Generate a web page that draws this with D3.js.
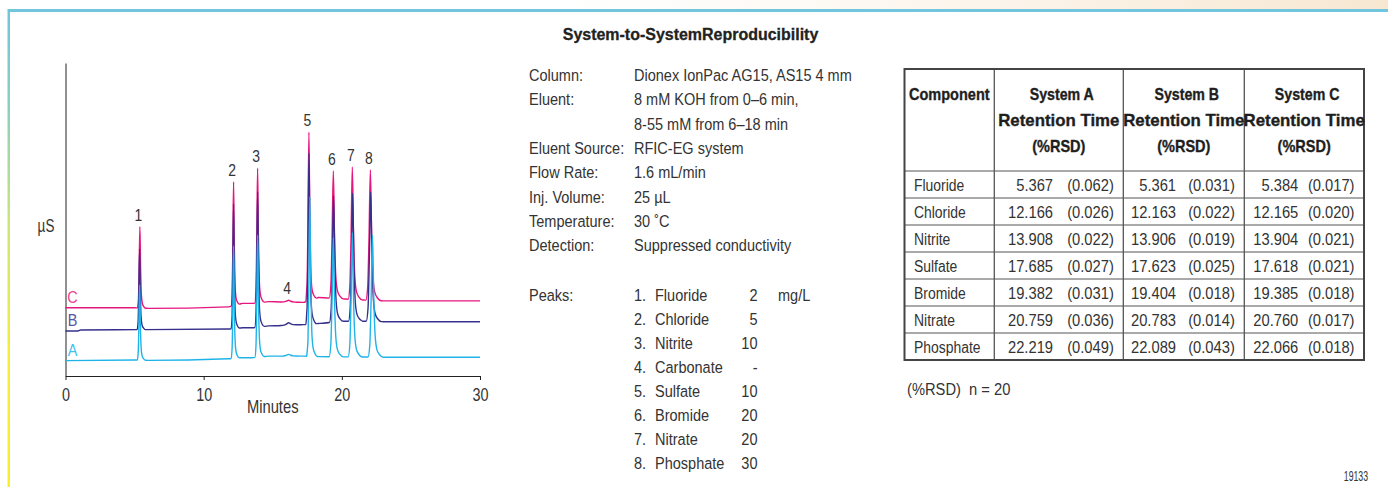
<!DOCTYPE html>
<html>
<head>
<meta charset="utf-8">
<script src="https://cdn.jsdelivr.net/npm/d3@7"></script>
<style>
  html, body { margin: 0; padding: 0; background: #fff; }
  svg { display: block; }
  text { font-family: "Liberation Sans", Arial, sans-serif; fill: #333; white-space: pre; }
</style>
</head>
<body>
<svg id="fig" width="1388" height="487"></svg>
<script>
// ---------- data ----------
const systemNames = ["A", "B", "C"];
const peakNumbers = ["1", "2", "3", "4", "5", "6", "7", "8"];
const peakNames = ["Fluoride", "Chloride", "Nitrite", "Carbonate", "Sulfate", "Bromide", "Nitrate", "Phosphate"];
const peakConc = ["2", "5", "10", "-", "10", "20", "20", "30"];

// retention times (min) per system; carbonate (peak 4) is not tabulated
const peakTimeA = [5.367, 12.166, 13.908, 16.15, 17.685, 19.382, 20.759, 22.219];
const peakTimeB = [5.361, 12.163, 13.906, 16.15, 17.623, 19.404, 20.783, 22.089];
const peakTimeC = [5.384, 12.165, 13.904, 16.15, 17.618, 19.385, 20.760, 22.066];

// apex response (µS, relative) per system
const peakTopA = [29.1, 41.6, 45.0, 6.9, 57.3, 44.2, 45.8, 45.0];
const peakTopB = [40.6, 55.0, 58.9, 17.0, 71.2, 57.6, 58.4, 58.8];
const peakTopC = [47.7, 62.0, 66.4, 24.2, 77.9, 65.5, 66.8, 65.8];

// peak width (min) and peak profile (offset in widths -> fraction of height)
const peakWidth = [0.07, 0.07, 0.08, 0.22, 0.09, 0.12, 0.12, 0.13];
const profileOffset = [-2.5, -1.5, -0.8, 0, 0.7, 1.5, 2.5, 4, 6];
const profileLevel = [0, 0.1, 0.45, 1, 0.5, 0.17, 0.06, 0.02, 0];

// baseline [time, µS] per system
const baseA = [[0, 4.9], [5, 5.1], [6, 5.0], [11.8, 5.5], [12.8, 5.85], [13.5, 5.85], [14.7, 6.35], [17.2, 6.35], [18.4, 6.2], [23, 6.0], [30, 6.0]];
const baseB = [[0, 14.4], [0.9, 14.4], [1.1, 14.7], [11.8, 15.0], [12.8, 15.4], [13.5, 15.4], [14.7, 16.0], [17.2, 16.4], [18.4, 16.8], [20.2, 17.5], [21.5, 17.5], [23, 17.35], [30, 17.35]];
const baseC = [[0, 21.8], [5, 21.8], [6, 21.6], [11.8, 22.1], [12.8, 23.2], [13.5, 23.2], [14.7, 23.75], [17.2, 23.5], [18.3, 25.1], [20.2, 24.6], [21.5, 24.3], [23, 24.0], [30, 24.0]];

const xTicks = [0, 10, 20, 30];

// chromatographic conditions
const condLabels = ["Column:", "Eluent:", "", "Eluent Source:", "Flow Rate:", "Inj. Volume:", "Temperature:", "Detection:"];
const condValues = ["Dionex IonPac AG15, AS15 4 mm", "8 mM KOH from 0\u20136 min,", "8-55 mM from 6\u201318 min", "RFIC-EG system", "1.6 mL/min", "25 \u00b5L", "30 \u02daC", "Suppressed conductivity"];

// reproducibility table
const tableComponents = ["Fluoride", "Chloride", "Nitrite", "Sulfate", "Bromide", "Nitrate", "Phosphate"];
const rtA = ["5.367", "12.166", "13.908", "17.685", "19.382", "20.759", "22.219"];
const rsdA = ["(0.062)", "(0.026)", "(0.022)", "(0.027)", "(0.031)", "(0.036)", "(0.049)"];
const rtB = ["5.361", "12.163", "13.906", "17.623", "19.404", "20.783", "22.089"];
const rsdB = ["(0.031)", "(0.022)", "(0.019)", "(0.025)", "(0.018)", "(0.014)", "(0.043)"];
const rtC = ["5.384", "12.165", "13.904", "17.618", "19.385", "20.760", "22.066"];
const rsdC = ["(0.017)", "(0.020)", "(0.021)", "(0.021)", "(0.018)", "(0.017)", "(0.018)"];

// ---------- helpers ----------
const svg = d3.select("#fig");
// condensed text: regular face squeezed horizontally
function label(parent, x, y, str, o = {}) {
  const t = parent.append("text")
    .attr("transform", `translate(${x},${y}) scale(${o.sx ?? 0.88},1)`)
    .attr("text-anchor", o.anchor || "start")
    .style("font-size", (o.size || 16.5) + "px");
  if (o.bold) t.style("font-weight", "bold");
  if (o.fill) t.style("fill", o.fill);
  if (o.heavy) t.style("stroke", o.fill || "#222").style("stroke-width", o.heavy);
  t.text(str);
  return t;
}

// ---------- page frame ----------
const defs = svg.append("defs");
const gTop = defs.append("linearGradient").attr("id", "topWash").attr("x1", 0).attr("x2", 1).attr("y1", 0).attr("y2", 0);
gTop.append("stop").attr("offset", "0%").attr("stop-color", "#fbefe0").attr("stop-opacity", 0);
gTop.append("stop").attr("offset", "100%").attr("stop-color", "#f7e7d1").attr("stop-opacity", 1);
const gLeft = defs.append("linearGradient").attr("id", "leftEdge").attr("x1", 0).attr("x2", 0).attr("y1", 0).attr("y2", 1);
[["0%", "#6fc5dc"], ["20%", "#88d0c0"], ["45%", "#cbe678"], ["72%", "#f3ee3a"], ["100%", "#f7f02c"]]
  .forEach(([o, c]) => gLeft.append("stop").attr("offset", o).attr("stop-color", c));

svg.append("rect").attr("x", 560).attr("y", 0).attr("width", 828).attr("height", 9).attr("fill", "url(#topWash)");
svg.append("rect").attr("x", 8).attr("y", 9).attr("width", 1380).attr("height", 3).attr("fill", "#71c5dc");
svg.append("rect").attr("x", 7.5).attr("y", 9).attr("width", 2.5).attr("height", 478).attr("fill", "url(#leftEdge)");

// title
label(svg, 690.5, 40, "System-to-SystemReproducibility", { anchor: "middle", bold: true, size: 17, sx: 0.94, fill: "#222", heavy: 0.3 });

// ---------- chromatogram ----------
const x = d3.scaleLinear().domain([0, 30]).range([65.5, 480]);
const y = d3.scaleLinear().domain([0, 100]).range([376, 63]);

const chart = svg.append("g");
chart.append("g").attr("transform", "translate(0,376)")
  .call(d3.axisBottom(x).tickValues(xTicks).tickSize(4).tickSizeOuter(0).tickPadding(8).tickFormat(d3.format("d")))
  .call(g => g.select(".domain").attr("stroke", "#222"))
  .call(g => g.selectAll(".tick line").attr("stroke", "#222"))
  .call(g => g.selectAll("text").style("font-size", "18px").style("font-family", null)
    .attr("fill", "#333").attr("transform", "scale(0.8,1)"));
chart.append("g").attr("transform", "translate(65.5,0)")
  .call(d3.axisLeft(y).tickValues([]).tickSizeOuter(0))
  .call(g => g.select(".domain").attr("stroke", "#222"));

label(chart, 272.7, 413, "Minutes", { anchor: "middle", size: 18, sx: 0.82 });
label(chart, 46, 232, "\u00b5S", { anchor: "middle", size: 18, sx: 0.75 });

const shape = d3.scaleLinear().domain(profileOffset).range(profileLevel).clamp(true);
function buildTrace(base, times, tops) {
  const baseAt = d3.scaleLinear().domain(base.map(d => d[0])).range(base.map(d => d[1])).clamp(true);
  const ts = new Set(base.map(d => d[0]));
  times.forEach((tp, i) => profileOffset.forEach(o => ts.add(+(tp + o * peakWidth[i]).toFixed(4))));
  return Array.from(ts).filter(t => t >= 0 && t <= 30).sort(d3.ascending).map(t => {
    let v = baseAt(t);
    times.forEach((tp, i) => {
      const o = (t - tp) / peakWidth[i];
      if (o > profileOffset[0] && o < profileOffset[profileOffset.length - 1]) v += (tops[i] - baseAt(tp)) * shape(o);
    });
    return [t, v];
  });
}

const traces = [
  { name: "C", color: "#e5177f", labelColor: "#ea3f93", base: baseC, times: peakTimeC, tops: peakTopC },
  { name: "B", color: "#35308c", labelColor: "#5a52a4", base: baseB, times: peakTimeB, tops: peakTopB },
  { name: "A", color: "#1fb4e9", labelColor: "#3cc0ee", base: baseA, times: peakTimeA, tops: peakTopA }
];
const line = d3.line().x(d => x(d[0])).y(d => y(d[1])).curve(d3.curveMonotoneX);
traces.forEach(tr => {
  chart.append("path").datum(buildTrace(tr.base, tr.times, tr.tops))
    .attr("d", line).attr("fill", "none").attr("stroke", tr.color).attr("stroke-width", 1.4)
    .attr("stroke-linejoin", "round");
  label(chart, x(0) + 7, y(tr.base[0][1]) - 4.5, tr.name, { anchor: "middle", size: 17, sx: 0.85, fill: tr.labelColor });
});

// peak numbers above trace C
peakNumbers.forEach((d, i) =>
  label(chart, x(peakTimeC[i]) - 1.5, y(peakTopC[i]) - 6, d, { anchor: "middle", size: 17, sx: 0.82 }));

// ---------- conditions ----------
const cond = svg.append("g");
condLabels.forEach((lab, i) => {
  const yy = 81 + i * 24.3;
  if (lab) label(cond, 529, yy, lab);
  label(cond, 634, yy, condValues[i]);
});
label(cond, 529, 300.5, "Peaks:");
peakNames.forEach((nm, i) => {
  const yy = 300.5 + i * 24;
  label(cond, 634, yy, peakNumbers[i] + ".");
  label(cond, 655, yy, nm);
  label(cond, 757.5, yy, peakConc[i], { anchor: "end" });
});
label(cond, 778, 300.5, "mg/L");

// ---------- table ----------
const colX = [904.5, 994.3, 1123.3, 1244.3, 1364];
const rowY = [69, 171, 198, 225, 252, 279, 306, 333, 360];
const rtRight = [58.7, 52.7, 54];
const headerScale = [0.86, 1.02, 0.88];
const tbl = svg.append("g");
rowY.slice(1, -1).forEach(yy => tbl.append("line").attr("x1", colX[0]).attr("x2", colX[4]).attr("y1", yy).attr("y2", yy).attr("stroke", "#555").attr("stroke-width", 1));
colX.slice(1, -1).forEach(xx => tbl.append("line").attr("x1", xx).attr("x2", xx).attr("y1", rowY[0]).attr("y2", rowY[rowY.length - 1]).attr("stroke", "#555").attr("stroke-width", 1.3));
tbl.append("rect").attr("x", colX[0]).attr("y", rowY[0]).attr("width", colX[4] - colX[0]).attr("height", rowY[rowY.length - 1] - rowY[0])
  .attr("fill", "none").attr("stroke", "#444").attr("stroke-width", 2);

label(tbl, 909, 99.5, "Component", { bold: true, size: 16.5, sx: 0.88, fill: "#1e1e1e", heavy: 0.35 });
systemNames.forEach((s, j) => {
  const cx = (colX[j + 1] + colX[j + 2]) / 2;
  ["System " + s, "Retention Time", "(%RSD)"].forEach((t, k) =>
    label(tbl, cx + (k === 0 ? 3 : 0), 99.5 + k * 26, t, { anchor: "middle", bold: true, size: 16.5, sx: headerScale[k], fill: "#1e1e1e", heavy: 0.35 }));
});
const rtCols = [rtA, rtB, rtC];
const rsdCols = [rsdA, rsdB, rsdC];
tableComponents.forEach((c, i) => {
  const yy = rowY[i + 1] + 19.5;
  label(tbl, 914, yy, c, { size: 16, sx: 0.87 });
  for (let j = 0; j < 3; j++) {
    label(tbl, colX[j + 1] + rtRight[j], yy, rtCols[j][i], { anchor: "end", size: 16, sx: 0.92 });
    label(tbl, colX[j + 2] - 9.5, yy, rsdCols[j][i], { anchor: "end", size: 16, sx: 0.92 });
  }
});
label(svg, 907, 395, "(%RSD)  n = 20", { size: 16, sx: 0.92 });
label(svg, 1368, 481, "19133", { anchor: "end", size: 14.5, sx: 0.6 });
</script>
</body>
</html>
